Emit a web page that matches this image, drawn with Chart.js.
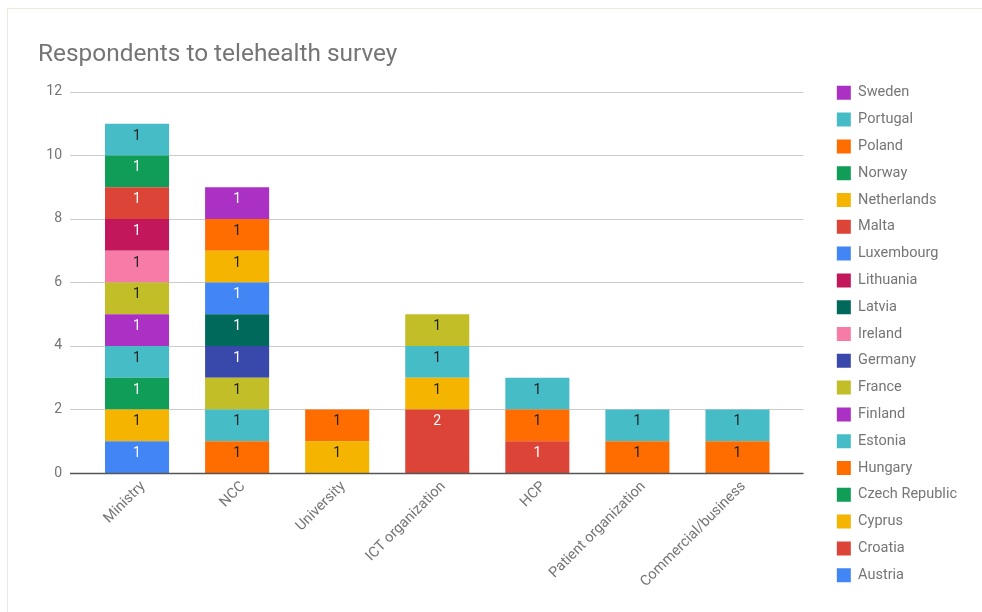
<!DOCTYPE html>
<html>
<head>
<meta charset="utf-8">
<title>Respondents to telehealth survey</title>
<script src="https://cdn.jsdelivr.net/npm/chart.js@4.4.1/dist/chart.umd.min.js"></script>
<style>
  html, body { margin: 0; padding: 0; background: #fff; }
  #frame { position: absolute; left: 7px; top: 8px; width: 990px; height: 620px; border: 1px solid #ebe8dc; }
  #wrap { position: absolute; left: 0; top: 0; width: 982px; height: 612px; }
</style>
</head>
<body>
<div id="frame"></div>
<div id="wrap"><canvas id="myChart"></canvas></div>
<script>
const categories = ["Ministry", "NCC", "University", "ICT organization", "HCP", "Patient organization", "Commercial/business"];
const yTicks = [0, 2, 4, 6, 8, 10, 12];

// respondents per country, one value per category (null = none)
const austria     = [1, null, null, null, null, null, null];
const croatia     = [null, null, null, 2, 1, null, null];
const cyprus      = [1, null, 1, 1, null, null, null];
const czech       = [1, null, null, null, null, null, null];
const hungary     = [null, 1, 1, null, 1, 1, 1];
const estonia     = [1, 1, null, 1, 1, 1, 1];
const finland     = [1, null, null, null, null, null, null];
const france      = [1, 1, null, 1, null, null, null];
const germany     = [null, 1, null, null, null, null, null];
const ireland     = [1, null, null, null, null, null, null];
const latvia      = [null, 1, null, null, null, null, null];
const lithuania   = [1, null, null, null, null, null, null];
const luxembourg  = [null, 1, null, null, null, null, null];
const malta       = [1, null, null, null, null, null, null];
const netherlands = [null, 1, null, null, null, null, null];
const norway      = [1, null, null, null, null, null, null];
const poland      = [null, 1, null, null, null, null, null];
const portugal    = [1, null, null, null, null, null, null];
const sweden      = [null, 1, null, null, null, null, null];

// stacking order, bottom to top
const countries = ["Austria", "Croatia", "Cyprus", "Czech Republic", "Hungary", "Estonia", "Finland", "France",
  "Germany", "Ireland", "Latvia", "Lithuania", "Luxembourg", "Malta", "Netherlands", "Norway", "Poland", "Portugal", "Sweden"];
const series = [austria, croatia, cyprus, czech, hungary, estonia, finland, france, germany, ireland, latvia,
  lithuania, luxembourg, malta, netherlands, norway, poland, portugal, sweden];

const palette = ["#4285F4", "#DB4437", "#F4B400", "#0F9D58", "#FF6D00", "#46BDC6",
  "#AB30C4", "#C2BE27", "#3949AB", "#F67BA6", "#00695C", "#C2185B"];
const darkText = ["#F4B400", "#FF6D00", "#46BDC6", "#C2BE27", "#F67BA6"];

const datasets = countries.map((name, i) => {
  const color = palette[i % palette.length];
  return {
    label: name,
    data: series[i],
    backgroundColor: color,
    borderWidth: 0,
    labelColor: darkText.includes(color) ? "#222222" : "#ffffff"
  };
});

// horizontal grid drawn a little wider than the category band
const gridLines = {
  id: "gridLines",
  beforeDatasetsDraw(chart) {
    const { ctx, chartArea, scales: { y } } = chart;
    ctx.save();
    ctx.strokeStyle = "#cccccc";
    ctx.lineWidth = 1;
    yTicks.slice(1).forEach(v => {
      const py = Math.round(y.getPixelForValue(v)) + 0.5;
      ctx.beginPath();
      ctx.moveTo(chartArea.left - 17, py);
      ctx.lineTo(chartArea.right + 16, py);
      ctx.stroke();
    });
    ctx.restore();
  },
  afterDatasetsDraw(chart) {
    const { ctx, chartArea, scales: { y } } = chart;
    const py = Math.round(y.getPixelForValue(0)) + 0.5;
    ctx.save();
    ctx.strokeStyle = "#555555";
    ctx.lineWidth = 1.5;
    ctx.beginPath();
    ctx.moveTo(chartArea.left - 17, py);
    ctx.lineTo(chartArea.right + 16, py);
    ctx.stroke();
    ctx.restore();
  }
};

// value printed near the top of each segment
const segmentLabels = {
  id: "segmentLabels",
  afterDatasetsDraw(chart) {
    const { ctx } = chart;
    ctx.save();
    ctx.font = "14px Roboto";
    ctx.textAlign = "center";
    ctx.textBaseline = "middle";
    chart.data.datasets.forEach((ds, i) => {
      chart.getDatasetMeta(i).data.forEach((bar, j) => {
        const v = ds.data[j];
        if (!v) return;
        ctx.fillStyle = ds.labelColor;
        ctx.fillText(v, bar.x, bar.y + 12.5);
      });
    });
    ctx.restore();
  }
};

new Chart(document.getElementById("myChart"), {
  type: "bar",
  data: { labels: categories, datasets: datasets },
  options: {
    responsive: true,
    maintainAspectRatio: false,
    animation: false,
    layout: { padding: { left: 38, right: 15, top: 0, bottom: 0 } },
    datasets: { bar: { barPercentage: 0.64, categoryPercentage: 1 } },
    scales: {
      x: {
        stacked: true,
        grid: { display: false, drawTicks: false },
        border: { display: false },
        ticks: {
          minRotation: 45, maxRotation: 45, padding: 5, labelOffset: 6,
          color: "#757575", font: { family: "Roboto", size: 14.5 }
        },
        afterFit(scale) { scale.height = 139; }
      },
      y: {
        stacked: true,
        min: 0, max: 12,
        grid: { display: false, drawTicks: false },
        border: { display: false },
        ticks: {
          stepSize: 2, padding: 25,
          color: "#757575", font: { family: "Roboto", size: 14 }
        },
        afterFit(scale) { scale.width = 49; }
      },
      spacer: {
        position: "right",
        display: true,
        grid: { display: false, drawTicks: false },
        border: { display: false },
        ticks: { display: false },
        afterFit(scale) { scale.width = 37; }
      }
    },
    plugins: {
      title: {
        display: true,
        text: "Respondents to telehealth survey",
        align: "start",
        color: "#757575",
        font: { family: "Roboto", size: 24.4, weight: "normal" },
        padding: { top: 40, bottom: 22.7 }
      },
      legend: {
        position: "right",
        reverse: true,
        title: { display: true, text: "", font: { size: 10 }, padding: { top: 44, bottom: 0 } },
        labels: {
          boxWidth: 14, boxHeight: 14, padding: 12.3,
          color: "#757575", font: { family: "Roboto", size: 14.5 }
        }
      },
      tooltip: { enabled: false }
    }
  },
  plugins: [gridLines, segmentLabels]
});
</script>
</body>
</html>
